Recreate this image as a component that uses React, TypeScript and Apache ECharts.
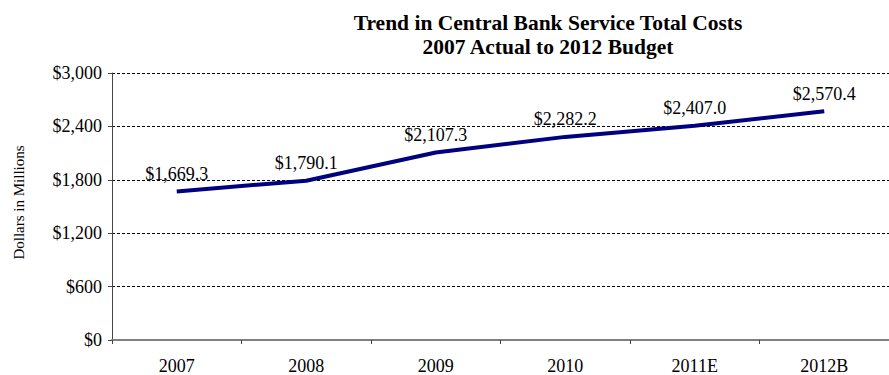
import React, { useEffect, useRef } from "react";
import * as echarts from "echarts";

const categories = ["2007", "2008", "2009", "2010", "2011E", "2012B"];
const costs = [1669.3, 1790.1, 2107.3, 2282.2, 2407.0, 2570.4];
const yTicks = { min: 0, max: 3000, interval: 600 };

const FONT = "'Liberation Serif', 'Times New Roman', serif";

const fmtMoney = (v: number, digits: number) =>
  "$" + v.toLocaleString("en-US", { minimumFractionDigits: digits, maximumFractionDigits: digits });

export default function App() {
  const ref = useRef<HTMLDivElement>(null);
  useEffect(() => {
    if (!ref.current) return;
    const chart = echarts.init(ref.current, undefined, { renderer: "svg" });
    chart.setOption({
      animation: false,
      backgroundColor: "#fff",
      title: {
        text: "Trend in Central Bank Service Total Costs\n2007 Actual to 2012 Budget",
        left: 543,
        top: 6,
        textAlign: "center",
        textStyle: {
          fontFamily: FONT,
          fontWeight: "bold",
          fontSize: 21.5,
          lineHeight: 24,
          color: "#000",
        },
      },
      grid: { left: 112, top: 73, width: 780, height: 267, containLabel: false },
      xAxis: {
        type: "category",
        data: categories,
        boundaryGap: true,
        axisLine: { show: true, lineStyle: { color: "#808080", width: 2 } },
        axisTick: { show: true, length: 4, lineStyle: { color: "#444", width: 1 } },
        axisLabel: { fontFamily: FONT, fontSize: 18, color: "#000", margin: 17 },
        splitLine: { show: false },
      },
      yAxis: {
        type: "value",
        min: yTicks.min,
        max: yTicks.max,
        interval: yTicks.interval,
        name: "Dollars in Millions",
        nameLocation: "middle",
        nameGap: 86,
        nameRotate: 90,
        nameTextStyle: { fontFamily: FONT, fontSize: 15, color: "#000", padding: [0, 0, 0, 8] },
        axisLine: { show: true, lineStyle: { color: "#444", width: 1 } },
        axisTick: { show: true, length: 4, lineStyle: { color: "#444", width: 1 } },
        axisLabel: {
          fontFamily: FONT,
          fontSize: 18,
          color: "#000",
          margin: 10,
          formatter: (v: number) => fmtMoney(v, 0),
        },
        splitLine: { show: true, lineStyle: { color: "#000", width: 1, type: [3, 2] } },
      },
      series: [
        {
          type: "line",
          data: costs,
          symbol: "circle",
          symbolSize: 1,
          showSymbol: true,
          itemStyle: { color: "#000080", opacity: 0 },
          lineStyle: { color: "#000080", width: 4 },
          label: {
            show: true,
            position: "top",
            distance: 8,
            fontFamily: FONT,
            fontSize: 18,
            color: "#000",
            opacity: 1,
            formatter: (p: any) => fmtMoney(p.value, 1),
          },
          labelLayout: { hideOverlap: false },
        },
      ],
    });
    return () => chart.dispose();
  }, []);
  return <div ref={ref} style={{ width: 889, height: 375, position: "fixed", left: 0, top: 0 }} />;
}
